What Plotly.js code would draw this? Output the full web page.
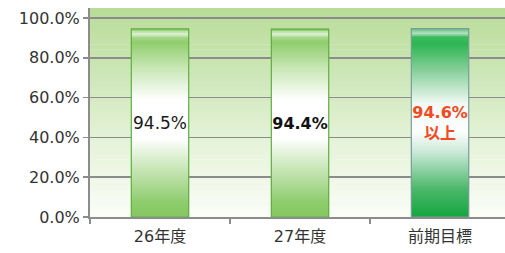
<!DOCTYPE html>
<html>
<head>
<meta charset="utf-8">
<script src="https://cdn.plot.ly/plotly-3.0.1.min.js"></script>
<style>html,body{margin:0;padding:0;background:#fff;}#chart{width:505px;height:253px;}</style>
</head>
<body>
<div id="chart"></div>
<script>
// ---- data ----
const categories = ['26年度', '27年度', '前期目標'];
const values = [94.5, 94.4, 94.6];
const barLabels = ['94.5%', '<b>94.4%</b>', '<b>94.6%<br>以上</b>'];
const labelColors = ['#1a1a1a', '#111111', '#f04a23'];
const yTickVals = [0, 20, 40, 60, 80, 100];
const yTickText = yTickVals.map(v => v.toFixed(1) + '%');

// ---- gradient helpers (styling) ----
function hex(c){return [parseInt(c.slice(1,3),16),parseInt(c.slice(3,5),16),parseInt(c.slice(5,7),16)];}
function interp(stops, t){
  for (let i=1;i<stops.length;i++){
    if (t <= stops[i][0]){
      const a=stops[i-1], b=stops[i];
      const f=(t-a[0])/(b[0]-a[0]);
      const ca=hex(a[1]), cb=hex(b[1]);
      const c=ca.map((v,j)=>Math.round(v+(cb[j]-v)*f));
      return 'rgb('+c.join(',')+')';
    }
  }
  return stops[stops.length-1][1];
}
const lightStops = [[0,'#84c860'],[0.08,'#8fcc6e'],[0.3,'#d6edc9'],[0.42,'#ffffff'],[0.62,'#ffffff'],[0.8,'#c5e6b1'],[0.93,'#8fcd6c'],[0.955,'#a6d88b'],[0.972,'#e6f4dd'],[0.988,'#b3de9a'],[1,'#7cc558']];
const darkStops = [[0,'#13a640'],[0.15,'#4cb86a'],[0.35,'#cdeadb'],[0.45,'#fbfdfc'],[0.6,'#f2f9f4'],[0.78,'#86cf9a'],[0.92,'#2db552'],[0.955,'#3cba5e'],[0.975,'#b5e1c2'],[1,'#5fbf7a']];
const barStops = [lightStops, lightStops, darkStops];

const traces = [];
const N = 100;
for (let k=0;k<N;k++){
  const t=(k+0.5)/N;
  traces.push({
    type:'bar', x:categories,
    base: values.map(v=>v*k/N),
    y: values.map(v=>v*(1-k/N)),
    marker:{color: barStops.map(s=>interp(s,t)), line:{width:0}},
    width:0.41, hoverinfo:'skip', showlegend:false
  });
}
// outline + labels
traces.push({
  type:'bar', x:categories, y:values,
  width:0.41,
  marker:{color:'rgba(0,0,0,0)', line:{color:['#5fae40','#5fae40','#7a9e9c'], width:1.2}},
  text: barLabels, textposition:'inside', insidetextanchor:'middle',
  constraintext:'none', textangle:0,
  textfont:{family:'"DejaVu Sans", "Noto Sans CJK JP", sans-serif', size:[17,16,16], color:labelColors},
  hoverinfo:'skip', showlegend:false
});

// background gradient bands
const shapes = [];
const bgStops = [[0,'#fafdf7'],[0.35,'#e6f3da'],[0.7,'#cce6b6'],[1,'#b8dc98']];
const M = 40, yTop = 105;
for (let i=0;i<M;i++){
  shapes.push({type:'rect', xref:'paper', yref:'y', x0:0, x1:1,
    y0:yTop*i/M, y1:yTop*(i+1)/M+0.2, fillcolor:interp(bgStops,(i+0.5)/M),
    line:{width:0}, layer:'below'});
}

const layout = {
  width:505, height:253,
  margin:{l:90, r:0, t:8, b:36},
  paper_bgcolor:'#ffffff', plot_bgcolor:'#ffffff',
  barmode:'overlay',
  font:{family:'"DejaVu Sans", "Noto Sans CJK JP", sans-serif', size:15, color:'#333333'},
  xaxis:{range:[-0.5, 2.464], showgrid:false, showline:true, linecolor:'#8c8c8c', linewidth:2,
    ticks:'outside', tickson:'boundaries', ticklen:5, tickcolor:'#8c8c8c', tickwidth:1.5,
    ticklabelstandoff:4,
    tickfont:{size:16, color:'#333'}, fixedrange:true},
  yaxis:{range:[0,105], tickmode:'array', tickvals:yTickVals, ticktext:yTickText,
    showgrid:true, gridcolor:'#8c8c8c', gridwidth:1.5, zeroline:false,
    showline:true, linecolor:'#8c8c8c', linewidth:2,
    ticks:'outside', ticklen:5, tickcolor:'#8c8c8c', tickwidth:1.5,
    tickfont:{size:16, color:'#333'}, fixedrange:true},
  shapes: shapes,
  showlegend:false
};

Plotly.newPlot('chart', traces, layout, {displayModeBar:false, staticPlot:true});
</script>
</body>
</html>
